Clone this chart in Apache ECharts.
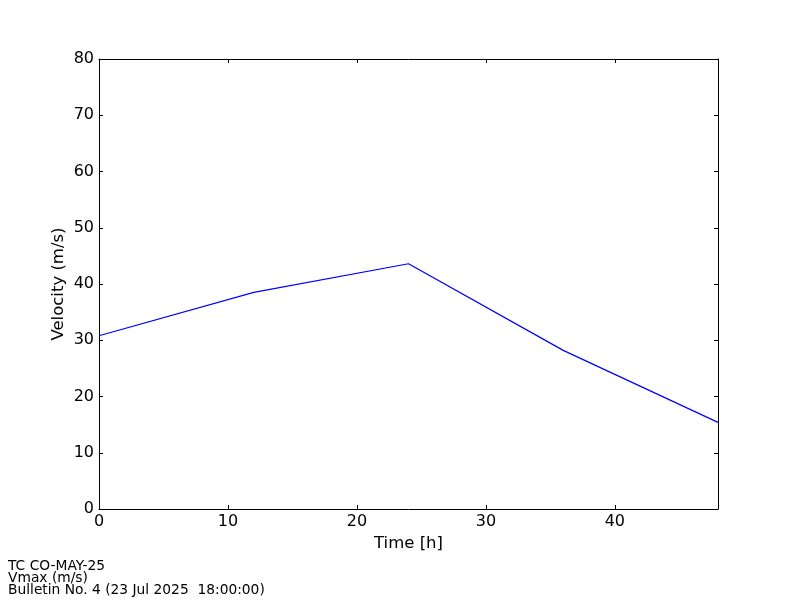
<!DOCTYPE html>
<html><head><meta charset="utf-8">
<script src="https://cdn.jsdelivr.net/npm/echarts@6/dist/echarts.min.js"></script>
<style>html,body{margin:0;padding:0;background:#fff}#c{width:800px;height:600px}</style>
</head><body><div id="c"></div>
<script>
const timeHours = [0, 12, 24, 36, 48];
const vmax = [30.8, 38.5, 43.6, 28.2, 15.4];
const xTicks = [0, 10, 20, 30, 40];
const yTicks = [0, 10, 20, 30, 40, 50, 60, 70, 80];
const footerLines = ['TC CO-MAY-25', 'Vmax (m/s)', 'Bulletin No. 4 (23 Jul 2025  18:00:00)'];

const font = 'DejaVu Sans';
const chart = echarts.init(document.getElementById('c'));
const axisLine = {show: true, onZero: false, lineStyle: {color: '#000', width: 1}};
const tick = {show: true, inside: true, length: 4, lineStyle: {color: '#000', width: 1}};
chart.setOption({
  animation: false,
  backgroundColor: '#fff',
  grid: {left: 99, top: 59, right: 82, bottom: 91, containLabel: false},
  xAxis: [{
    type: 'value', min: 0, max: 48, interval: 10, position: 'bottom',
    name: 'Time [h]', nameLocation: 'middle', nameGap: 26,
    nameTextStyle: {fontFamily: font, fontSize: 16.5, color: '#000'},
    axisLine: axisLine, axisTick: tick, splitLine: {show: false},
    axisLabel: {fontFamily: font, fontSize: 16, color: '#000', margin: 5, showMaxLabel: false}
  }, {
    type: 'value', min: 0, max: 48, interval: 10, position: 'top',
    axisLine: axisLine, axisTick: tick, splitLine: {show: false},
    axisLabel: {show: false}
  }],
  yAxis: [{
    type: 'value', min: 0, max: 80, interval: 10, position: 'left',
    name: 'Velocity (m/s)', nameLocation: 'middle', nameGap: 32, nameMoveOverlap: false,
    nameTextStyle: {fontFamily: font, fontSize: 16.5, color: '#000'},
    axisLine: axisLine, axisTick: tick, splitLine: {show: false},
    axisLabel: {fontFamily: font, fontSize: 16, color: '#000', margin: 5}
  }, {
    type: 'value', min: 0, max: 80, interval: 10, position: 'right',
    axisLine: axisLine, axisTick: tick, splitLine: {show: false},
    axisLabel: {show: false}
  }],
  series: [{
    type: 'line', xAxisIndex: 0, yAxisIndex: 0,
    data: timeHours.map((t, i) => [t, vmax[i]]),
    symbol: 'none', lineStyle: {color: '#0000ff', width: 1.2}
  }],
  graphic: [{
    type: 'text', left: 8, top: 559,
    style: {text: footerLines.join('\n'), font: '13.8px "DejaVu Sans"', lineHeight: 12, fill: '#000'}
  }]
});
</script></body></html>
